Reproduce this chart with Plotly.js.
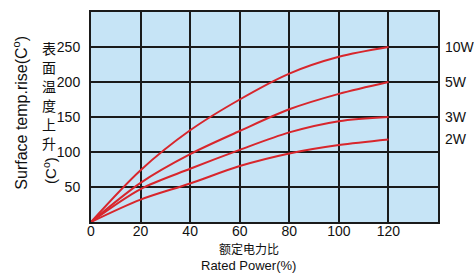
<!DOCTYPE html>
<html>
<head>
<meta charset="utf-8">
<script src="https://cdn.plot.ly/plotly-3.0.1.min.js"></script>
<style>html,body{margin:0;padding:0;background:#fff;}#chart{width:474px;height:274px;}</style>
</head>
<body>
<div id="chart"></div>
<script>
const ratedPower = [0, 20, 40, 60, 80, 100, 120];
const rise10W = [0, 74, 131, 175, 212, 236, 250];
const rise5W  = [0, 56, 97, 130, 161, 183, 200];
const rise3W  = [0, 47, 76, 103, 128, 144, 150];
const rise2W  = [0, 32, 55, 80, 98, 110, 118];
const seriesNames = ['10W', '5W', '3W', '2W'];
const seriesValues = [rise10W, rise5W, rise3W, rise2W];
const labelY = [250, 200, 150, 118];
const xTicks = [0, 20, 40, 60, 80, 100, 120];
const yTicks = [50, 100, 150, 200, 250];
const cnTitleChars = ['表', '面', '温', '度', '上', '升'];

const narrow = "Liberation Sans Narrow, Arial Narrow, Liberation Sans, Arial, sans-serif";
const red = '#d8262c';

const traces = seriesValues.map((vals, i) => ({
  x: ratedPower, y: vals, type: 'scatter', mode: 'lines', name: seriesNames[i],
  line: {color: red, width: 2, shape: 'spline', smoothing: 0.9},
  hoverinfo: 'skip'
}));

const annotations = seriesNames.map((n, i) => ({
  x: 1.015, xref: 'paper', xanchor: 'left', y: labelY[i], yref: 'y', yanchor: 'middle',
  text: n, showarrow: false, font: {family: narrow, size: 14, color: '#111'}
}));

annotations.push({
  x: -0.205, xref: 'paper', y: 0.52, yref: 'paper', xanchor: 'center', yanchor: 'middle',
  text: 'Surface temp.rise(C<sup>o</sup>)', textangle: -90, showarrow: false,
  font: {family: narrow, size: 16, color: '#111'}
});
cnTitleChars.forEach((c, i) => {
  annotations.push({
    x: -0.12, xref: 'paper', y: (222 - (48 + i * 19)) / 210, yref: 'paper',
    xanchor: 'center', yanchor: 'middle', text: c, showarrow: false,
    font: {family: 'Noto Sans CJK SC, sans-serif', size: 14, color: '#111'}
  });
});
annotations.push({
  x: -0.12, xref: 'paper', y: 0.245, yref: 'paper', xanchor: 'center', yanchor: 'middle',
  text: '(C<sup>o</sup>)', textangle: -90, showarrow: false,
  font: {family: narrow, size: 15, color: '#111'}
});
annotations.push({
  x: 0.455, xref: 'paper', y: -0.128, yref: 'paper', xanchor: 'center', yanchor: 'middle',
  text: '额定电力比', showarrow: false,
  font: {family: 'Noto Sans CJK SC, sans-serif', size: 12, color: '#111'}
});
annotations.push({
  x: 0.455, xref: 'paper', y: -0.205, yref: 'paper', xanchor: 'center', yanchor: 'middle',
  text: 'Rated Power(%)', showarrow: false,
  font: {family: narrow, size: 13, color: '#111'}
});

const layout = {
  width: 474, height: 274,
  margin: {l: 91, r: 36, t: 12, b: 52},
  paper_bgcolor: '#ffffff', plot_bgcolor: '#c6e4f6',
  showlegend: false,
  xaxis: {
    range: [0, 140], tickvals: xTicks, ticktext: xTicks.map(String),
    showgrid: true, gridcolor: '#1a1a1a', gridwidth: 2,
    zeroline: false, showline: true, mirror: true, linecolor: '#1a1a1a', linewidth: 2,
    ticks: '', ticklen: 0, ticklabelstandoff: -5,
    tickfont: {family: narrow, size: 14, color: '#111'}, fixedrange: true
  },
  yaxis: {
    range: [0, 300], tickvals: yTicks, ticktext: yTicks.map(String),
    showgrid: true, gridcolor: '#1a1a1a', gridwidth: 2,
    zeroline: false, showline: true, mirror: true, linecolor: '#1a1a1a', linewidth: 2,
    ticks: '', ticklen: 0, ticklabelstandoff: 6,
    tickfont: {family: narrow, size: 14, color: '#111'}, fixedrange: true
  },
  annotations: annotations
};

Plotly.newPlot('chart', traces, layout, {displayModeBar: false, staticPlot: true});
</script>
</body>
</html>
